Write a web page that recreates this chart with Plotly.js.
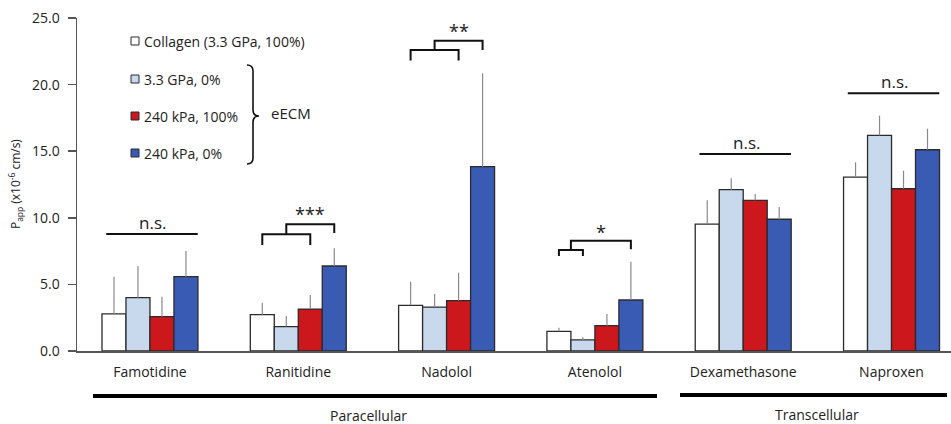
<!DOCTYPE html>
<html>
<head>
<meta charset="utf-8">
<script src="https://cdn.plot.ly/plotly-3.0.1.min.js"></script>
<style>html,body{margin:0;padding:0;background:#fff;}#chart{width:951px;height:424px;}</style>
</head>
<body>
<div id="chart"></div>
<script>
// ---- data ----
const categories = ['Famotidine','Ranitidine','Nadolol','Atenolol','Dexamethasone','Naproxen'];
const seriesNames = ['Collagen (3.3 GPa, 100%)','3.3 GPa, 0%','240 kPa, 100%','240 kPa, 0%'];
const collagen   = [2.78, 2.73, 3.43, 1.48, 9.53, 13.06];
const gpa0       = [4.00, 1.83, 3.30, 0.83, 12.11, 16.19];
const kpa100     = [2.58, 3.15, 3.78, 1.90, 11.31, 12.18];
const kpa0       = [5.58, 6.38, 13.84, 3.83, 9.89, 15.11];
const collagenErr = [2.80, 0.90, 1.77, 0.27, 1.78, 1.11];
const gpa0Err     = [2.38, 0.80, 0.98, 0.20, 0.85, 1.48];
const kpa100Err   = [1.50, 1.05, 2.10, 0.88, 0.48, 1.36];
const kpa0Err     = [1.92, 1.33, 7.01, 2.87, 0.92, 1.58];
const yTickVals = [0, 5, 10, 15, 20, 25];
const groupLabels = ['Paracellular', 'Transcellular'];

// significance: n.s. lines (category index, y)
const nsCats = [0, 4, 5];
const nsY    = [8.78, 14.79, 19.35];
// brackets: category, lower bracket bars [a,b], lower y, lower leg bottom, upper y, upper right leg bottom, label, label y
const brCats   = [1, 2, 3];
const brLowA   = [0, 0, 0];
const brLowB   = [2, 2, 1];
const brLowY   = [8.76, 22.6, 7.58];
const brLowLeg = [7.96, 21.8, 7.13];
const brUpY    = [9.51, 23.3, 8.28];
const brUpLeg  = [8.86, 22.6, 7.63];
const brLabels = ['***', '**', '*'];
const brLabelY = [10.3, 24.0, 8.91];

// ---- styles ----
const colors = ['#ffffff', '#c8d9ee', '#cc171d', '#3a5bb4'];
const FONT = 'Open Sans, Noto Sans, sans-serif';
const BARGAP = 0.353;
const barW = (1 - BARGAP) / 4;
const off = i => (i - 1.5) * barW;

const vals = [collagen, gpa0, kpa100, kpa0];
const errs = [collagenErr, gpa0Err, kpa100Err, kpa0Err];
const traces = vals.map((v, i) => ({
  type: 'bar', x: categories, y: v, name: seriesNames[i],
  marker: {color: colors[i], line: {color: '#2b2b2b', width: 1.3}},
  error_y: {type: 'data', array: errs[i], arrayminus: v.map(() => 0), symmetric: false,
            color: '#8a8a8a', thickness: 1.2, width: 0},
  showlegend: false, hoverinfo: 'skip'
}));

// pixel helpers for out-of-plot decorations
const ML = 77, MT = 18, W = 951, H = 424, MB = 73, MR = 0;
const PW = W - ML - MR, PH = H - MT - MB;
const px = x => (x - ML) / PW;
const py = y => (MT + PH - y) / PH;

const shapes = [];
const annotations = [];
const blk = {color: '#111', width: 2};
const ann = o => Object.assign({showarrow: false, xanchor: 'center', yanchor: 'middle'}, o);

nsCats.forEach((c, k) => {
  shapes.push({type: 'line', xref: 'x', yref: 'y', x0: c - 0.295, x1: c + 0.322, y0: nsY[k], y1: nsY[k], line: blk});
  annotations.push(ann({xref: 'x', yref: 'y', x: c + 0.02, y: nsY[k], yanchor: 'bottom', text: 'n.s.',
    font: {family: FONT, size: 17, color: '#222'}, yshift: -2}));
});
brCats.forEach((c, k) => {
  const xa = c + off(brLowA[k]), xb = c + off(brLowB[k]);
  const xm = (xa + xb) / 2, xu = c + off(3);
  const p1 = `M${xa},${brLowLeg[k]} L${xa},${brLowY[k]} L${xb},${brLowY[k]} L${xb},${brLowLeg[k]}`;
  shapes.push({type: 'path', xref: 'x', yref: 'y', path: p1, line: blk});
  const p2 = `M${xm},${brLowY[k]} L${xm},${brUpY[k]} L${xu},${brUpY[k]} L${xu},${brUpLeg[k]}`;
  shapes.push({type: 'path', xref: 'x', yref: 'y', path: p2, line: blk});
  annotations.push(ann({xref: 'x', yref: 'y', x: (xm + xu) / 2, y: brLabelY[k], text: brLabels[k],
    font: {family: FONT, size: 18, color: '#222'}}));
});

// custom legend
const legY = [41, 79, 116, 153];
seriesNames.forEach((n, i) => {
  shapes.push({type: 'rect', xref: 'paper', yref: 'paper', x0: px(131), x1: px(139), y0: py(legY[i] + 4), y1: py(legY[i] - 4),
    line: {color: '#2b2b2b', width: 1}, fillcolor: colors[i]});
  annotations.push(ann({xref: 'paper', yref: 'paper', x: px(142), y: py(legY[i]), xanchor: 'left',
    text: n, font: {family: FONT, size: 14, color: '#222'}}));
});
// brace
const bx = 247, by0 = 65, by1 = 164, tipX = 259, tipY = 116, vx = 253;
const bracePath = [
  `M${px(bx)},${py(by0)}`,
  `Q${px(vx)},${py(by0)} ${px(vx)},${py(by0 + 6)}`,
  `L${px(vx)},${py(tipY - 6)}`,
  `Q${px(vx)},${py(tipY)} ${px(tipX)},${py(tipY)}`,
  `Q${px(vx)},${py(tipY)} ${px(vx)},${py(tipY + 6)}`,
  `L${px(vx)},${py(by1 - 6)}`,
  `Q${px(vx)},${py(by1)} ${px(bx)},${py(by1)}`
].join(' ');
shapes.push({type: 'path', xref: 'paper', yref: 'paper', path: bracePath, line: {color: '#111', width: 1.6}});
annotations.push(ann({xref: 'paper', yref: 'paper', x: px(291), y: py(113), text: 'eECM',
  font: {family: FONT, size: 15, color: '#222'}}));

// group lines under axis
shapes.push({type: 'line', xref: 'paper', yref: 'paper', x0: px(93), x1: px(657), y0: py(396), y1: py(396), line: {color: '#000', width: 4}});
shapes.push({type: 'line', xref: 'paper', yref: 'paper', x0: px(680), x1: px(947), y0: py(395), y1: py(395), line: {color: '#000', width: 4}});
annotations.push(ann({xref: 'paper', yref: 'paper', x: px(368), y: py(415), text: groupLabels[0],
  font: {family: FONT, size: 14, color: '#222'}}));
annotations.push(ann({xref: 'paper', yref: 'paper', x: px(817), y: py(414), text: groupLabels[1],
  font: {family: FONT, size: 14, color: '#222'}}));
// y-axis title
annotations.push(ann({xref: 'paper', yref: 'paper', x: px(15), y: py(184), textangle: -90,
  text: 'P<sub>app</sub> (x10<sup>-6</sup> cm/s)', font: {family: FONT, size: 12, color: '#222'}}));

const layout = {
  width: W, height: H,
  margin: {l: ML, r: MR, t: MT, b: MB, pad: 0},
  paper_bgcolor: '#fff', plot_bgcolor: '#fff',
  barmode: 'group', bargap: BARGAP, bargroupgap: 0,
  showlegend: false,
  font: {family: FONT, color: '#222'},
  xaxis: {type: 'category', range: [-0.492, 5.401], showgrid: false, zeroline: false,
    showline: true, linecolor: '#555', linewidth: 1.5, ticks: '', ticklabelstandoff: 8,
    tickfont: {family: FONT, size: 14, color: '#222'}, fixedrange: true},
  yaxis: {range: [0, 25], tickvals: yTickVals, tickformat: '.1f', showgrid: false, zeroline: false,
    showline: true, linecolor: '#555', linewidth: 1.5, ticks: 'outside', ticklen: 8, tickcolor: '#555',
    tickwidth: 1.5, ticklabelstandoff: 5, tickfont: {family: FONT, size: 14, color: '#222'}, fixedrange: true},
  shapes: shapes, annotations: annotations
};
Plotly.newPlot('chart', traces, layout, {displayModeBar: false, staticPlot: true});
</script>
</body>
</html>
